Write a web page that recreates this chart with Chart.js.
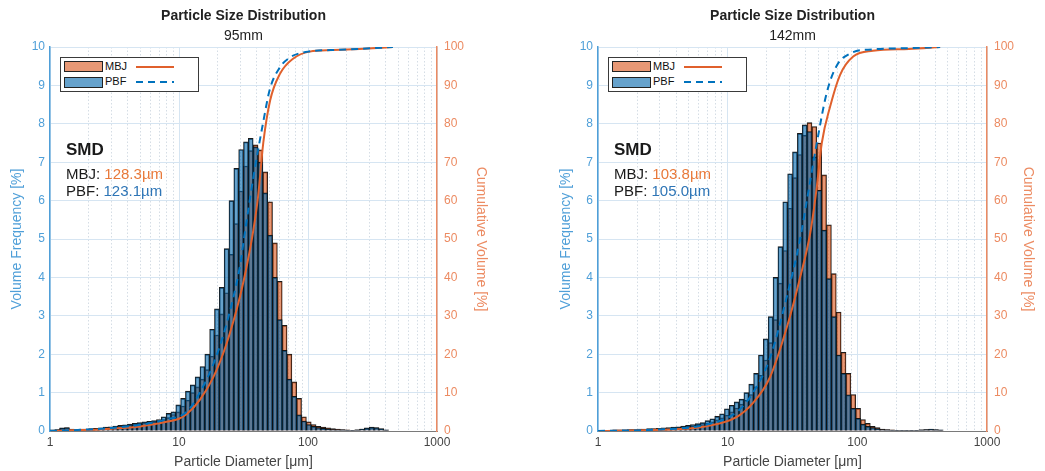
<!DOCTYPE html>
<html lang="en">
<head>
<meta charset="utf-8">
<title>Particle Size Distribution</title>
<script src="https://cdn.jsdelivr.net/npm/chart.js@4.4.1/dist/chart.umd.min.js"></script>
<style>
    html, body { margin: 0; padding: 0; background: #fff; }
    #page { position: relative; width: 1045px; height: 471px; overflow: hidden; font-family: 'Liberation Sans', Arial, Helvetica, sans-serif; }
    #page canvas { position: absolute; top: 0; }
    #chart95 { left: 0; }
    #chart142 { left: 522px; }
    .legend { position: absolute; top: 57px; width: 139px; height: 35px; box-sizing: border-box; border: 1px solid #3a3a3a; background: #fff; }
    .legend .patch { position: absolute; left: 2.5px; width: 39px; height: 11px; box-sizing: border-box; border: 1px solid #222; }
    .legend .label { position: absolute; left: 44px; font-size: 11px; line-height: 11px; color: #111; }
    .legend .swatch { position: absolute; left: 75px; width: 38px; height: 2px; }
    .mbj-patch { background: rgba(217, 83, 25, 0.6); }
    .pbf-patch { background: rgba(0, 100, 170, 0.6); }
    .mbj-line { background: #E0602C; }
    .pbf-line { background: repeating-linear-gradient(to right, #0072BD 0 7px, transparent 7px 12px); }
    .smd { position: absolute; top: 0; color: #1a1a1a; }
    .smd .head { position: absolute; top: 141px; font-weight: bold; font-size: 17px; line-height: 17px; }
    .smd .row { position: absolute; font-size: 15px; line-height: 15px; white-space: nowrap; }
    .mbj-val { color: #E8793A; }
    .pbf-val { color: #2E75B6; }
</style>
</head>
<body>
<div id="page">
    <canvas id="chart95" width="522" height="471"></canvas>
    <canvas id="chart142" width="523" height="471"></canvas>

    <div class="legend" style="left:60px">
        <div class="patch mbj-patch" style="top:3px"></div>
        <div class="label" style="top:3.3px">MBJ</div>
        <div class="swatch mbj-line" style="top:7.7px"></div>
        <div class="patch pbf-patch" style="top:18.7px"></div>
        <div class="label" style="top:18.3px">PBF</div>
        <div class="swatch pbf-line" style="top:22.7px"></div>
    </div>
    <div class="legend" style="left:608px">
        <div class="patch mbj-patch" style="top:3px"></div>
        <div class="label" style="top:3.3px">MBJ</div>
        <div class="swatch mbj-line" style="top:7.7px"></div>
        <div class="patch pbf-patch" style="top:18.7px"></div>
        <div class="label" style="top:18.3px">PBF</div>
        <div class="swatch pbf-line" style="top:22.7px"></div>
    </div>

    <div class="smd" style="left:66px">
        <div class="head">SMD</div>
        <div class="row" style="top:166px">MBJ: <span class="mbj-val">128.3µm</span></div>
        <div class="row" style="top:183px">PBF: <span class="pbf-val">123.1µm</span></div>
    </div>
    <div class="smd" style="left:614px">
        <div class="head">SMD</div>
        <div class="row" style="top:166px">MBJ: <span class="mbj-val">103.8µm</span></div>
        <div class="row" style="top:183px">PBF: <span class="pbf-val">105.0µm</span></div>
    </div>
</div>

<script>
// Histogram bins: 80 log-spaced bins from 1 to 1000 µm, bars sit at the bin centres
const BIN_COUNT = 80;
const binCenters = Array.from({ length: BIN_COUNT }, (_, k) => Math.pow(10, 3 * (k + 0.5) / BIN_COUNT));

const xTickLabels = [1, 10, 100, 1000];
const freqTicks = [0, 1, 2, 3, 4, 5, 6, 7, 8, 9, 10];
const cumTicks = [0, 10, 20, 30, 40, 50, 60, 70, 80, 90, 100];

// ---- 95mm : volume frequency [%] per bin ----
const mbj95Freq = [
    0.02, 0.03, 0.07, 0.08, 0.04, 0.03, 0.04, 0.04, 0.05, 0.06,
    0.07, 0.08, 0.09, 0.11, 0.12, 0.14, 0.15, 0.17, 0.19, 0.21,
    0.22, 0.24, 0.26, 0.30, 0.35, 0.43, 0.50, 0.65, 0.80, 1.00,
    1.15, 1.35, 1.60, 1.95, 2.50, 3.05, 3.60, 4.60, 5.40, 6.25,
    6.90, 7.30, 7.45, 7.32, 6.75, 5.97, 4.90, 3.90, 2.75, 2.00,
    1.28, 0.85, 0.37, 0.24, 0.17, 0.12, 0.10, 0.08, 0.06, 0.05,
    0.04, 0.03, 0.02, 0.03, 0.05, 0.07, 0.09, 0.08, 0.05, 0.02,
    0, 0, 0, 0, 0, 0, 0, 0, 0, 0
];
const pbf95Freq = [
    0.03, 0.04, 0.08, 0.09, 0.05, 0.04, 0.05, 0.05, 0.06, 0.07,
    0.08, 0.10, 0.11, 0.13, 0.15, 0.16, 0.18, 0.20, 0.22, 0.24,
    0.25, 0.27, 0.30, 0.37, 0.46, 0.50, 0.68, 0.85, 1.04, 1.20,
    1.41, 1.68, 2.00, 2.65, 3.18, 3.74, 4.75, 6.00, 6.84, 7.33,
    7.53, 7.62, 7.40, 7.00, 6.20, 5.10, 4.00, 2.90, 2.10, 1.35,
    0.90, 0.42, 0.26, 0.17, 0.12, 0.09, 0.07, 0.05, 0.04, 0.03,
    0.03, 0.02, 0.02, 0.03, 0.05, 0.08, 0.10, 0.09, 0.06, 0.03,
    0, 0, 0, 0, 0, 0, 0, 0, 0, 0
];
// ---- 95mm : cumulative volume [%] ----
const mbj95CumD = [1, 2, 3, 5, 8, 10, 11.5, 14.5, 18.5, 23.4, 29.7, 34, 37.7, 41, 45, 50.8, 60.6, 77, 103, 156, 250, 455];
const mbj95Cum  = [0, 0.3, 0.6, 1.2, 2.4, 3.2, 4.4, 8.1, 14.1, 22.8, 35, 44, 52.3, 61, 75, 86, 93, 97, 98.8, 99.2, 99.5, 100];
const pbf95CumD = [1, 2, 3, 5, 8, 11.5, 14.5, 18.5, 23.4, 29.7, 32.5, 37.7, 45, 50.6, 60, 72.7, 100, 150, 250, 455];
const pbf95Cum  = [0, 0.4, 0.8, 1.6, 3.0, 5, 10, 17.5, 28, 43, 52, 66, 80.5, 89, 94.5, 97.3, 98.8, 99.2, 99.5, 100];

// ---- 142mm : volume frequency [%] per bin ----
const mbj142Freq = [
    0.01, 0.01, 0.02, 0.02, 0.02, 0.02, 0.03, 0.03, 0.03, 0.04,
    0.04, 0.05, 0.05, 0.06, 0.07, 0.08, 0.09, 0.10, 0.12, 0.13,
    0.15, 0.17, 0.20, 0.24, 0.29, 0.34, 0.41, 0.50, 0.60, 0.70,
    0.80, 0.95, 1.15, 1.45, 1.85, 2.30, 2.90, 3.85, 4.70, 5.80,
    6.60, 7.20, 7.70, 8.03, 7.93, 7.50, 6.67, 5.37, 4.10, 3.10,
    2.05, 1.50, 0.95, 0.59, 0.30, 0.20, 0.12, 0.09, 0.05, 0.04,
    0.03, 0.02, 0.02, 0.02, 0.02, 0.02, 0.03, 0.04, 0.04, 0.03,
    0.02, 0, 0, 0, 0, 0, 0, 0, 0, 0
];
const pbf142Freq = [
    0.02, 0.02, 0.02, 0.03, 0.03, 0.03, 0.04, 0.04, 0.05, 0.05,
    0.06, 0.06, 0.07, 0.08, 0.09, 0.10, 0.11, 0.13, 0.15, 0.17,
    0.19, 0.22, 0.27, 0.32, 0.38, 0.45, 0.58, 0.67, 0.76, 0.83,
    1.00, 1.22, 1.50, 1.98, 2.40, 2.98, 4.00, 4.80, 5.97, 6.70,
    7.27, 7.75, 7.97, 7.80, 7.14, 6.27, 5.23, 3.97, 2.98, 1.98,
    1.50, 0.94, 0.59, 0.33, 0.18, 0.12, 0.09, 0.06, 0.04, 0.03,
    0.02, 0.02, 0.02, 0.02, 0.02, 0.02, 0.03, 0.04, 0.05, 0.04,
    0.03, 0, 0, 0, 0, 0, 0, 0, 0, 0
];
// ---- 142mm : cumulative volume [%] ----
const mbj142CumD = [1, 3, 6.5, 11.8, 15.7, 21.2, 28.6, 36.2, 43.3, 48.7, 53.2, 61.7, 73.5, 92.9, 132, 250, 435];
const mbj142Cum  = [0, 0.3, 1.1, 3.7, 7.3, 14, 27, 40, 51.5, 63.6, 75, 84.5, 92.7, 97.5, 99, 99.5, 100];
const pbf142CumD = [1, 3, 6.5, 11.8, 15.7, 21.2, 28.6, 36.2, 40.8, 48.7, 58, 69, 88, 132, 250, 435];
const pbf142Cum  = [0, 0.4, 1.5, 5, 10, 19, 35, 50, 60, 75, 88, 95, 98.3, 99.4, 99.7, 100];

const MBJ_COLOR = '#E0602C';
const PBF_COLOR = '#0072BD';
const MBJ_FILL = 'rgba(217, 83, 25, 0.6)';
const PBF_FILL = 'rgba(0, 100, 170, 0.6)';
const EDGE = 'rgba(15, 15, 15, 0.95)';
const LEFT_AXIS = '#4f9fd8';
const RIGHT_AXIS = '#ec8b62';
const GRID_MAJOR = '#d6e5f2';
const GRID_MINOR = 'rgba(150, 170, 190, 0.4)';

Chart.defaults.font.family = "'Liberation Sans', Arial, Helvetica, sans-serif";

const isDecade = (v) => xTickLabels.some(d => Math.abs(v - d) < 1e-9);
const isMinorTick = (v) => {
    const e = Math.floor(Math.log10(v) + 1e-9);
    const s = v / Math.pow(10, e);
    return Math.abs(s - Math.round(s)) < 1e-6 && !isDecade(v);
};

function buildPanel(canvasId, p) {
    const ctx = document.getElementById(canvasId).getContext('2d');
    const toBars = (values) => values.map((v, i) => ({ x: binCenters[i], y: v > 0 ? v : null }));
    const toCurve = (d, c) => d.map((x, i) => ({ x, y: c[i] }));

    const barStyle = {
        type: 'bar',
        borderColor: EDGE,
        borderWidth: { top: 1, left: 0.8, right: 0.8, bottom: 0 },
        borderSkipped: false,
        grouped: false,
        barPercentage: 1,
        categoryPercentage: 1,
        yAxisID: 'y'
    };
    const lineStyle = {
        type: 'line',
        yAxisID: 'y2',
        borderWidth: 2,
        pointRadius: 0,
        fill: false,
        cubicInterpolationMode: 'monotone'
    };

    return new Chart(ctx, {
        type: 'bar',
        data: {
            datasets: [
                { ...lineStyle, label: 'MBJ cumulative', data: toCurve(p.mbjCumD, p.mbjCum), borderColor: MBJ_COLOR, order: 1 },
                { ...lineStyle, label: 'PBF cumulative', data: toCurve(p.pbfCumD, p.pbfCum), borderColor: PBF_COLOR, borderDash: [7, 5], order: 0 },
                { ...barStyle, label: 'PBF', data: toBars(p.pbf), backgroundColor: PBF_FILL, order: 2 },
                { ...barStyle, label: 'MBJ', data: toBars(p.mbj), backgroundColor: MBJ_FILL, order: 3 }
            ]
        },
        options: {
            responsive: false,
            animation: false,
            devicePixelRatio: 1,
            events: [],
            layout: { padding: 0 },
            plugins: {
                legend: { display: false },
                tooltip: { enabled: false },
                title: {
                    display: true, text: 'Particle Size Distribution', fullSize: false, color: '#222',
                    font: { size: 14, weight: 'bold' }, padding: { top: 7.6, bottom: 3.2 }
                },
                subtitle: {
                    display: true, text: p.subtitle, fullSize: false, color: '#222',
                    font: { size: 14, weight: 'normal' }, padding: { top: 0, bottom: 2.6 }
                }
            },
            scales: {
                x: {
                    type: 'logarithmic',
                    position: 'bottom',
                    min: 1, max: 1000,
                    offset: false,
                    grid: {
                        offset: false, drawTicks: false, lineWidth: 1,
                        color: (c) => (c.tick && isDecade(c.tick.value)) ? GRID_MAJOR : 'rgba(0,0,0,0)'
                    },
                    border: { display: true, color: '#7a7a7a', width: 1 },
                    ticks: {
                        autoSkip: false, maxRotation: 0, padding: 4, color: '#444', font: { size: 12 },
                        callback: (v) => isDecade(v) ? String(v) : ''
                    },
                    title: { display: true, text: 'Particle Diameter [μm]', color: '#444', font: { size: 14 }, padding: { top: 0, bottom: 0 } },
                    afterFit: (s) => { s.height = 40; }
                },
                xMinor: {
                    type: 'logarithmic',
                    position: 'bottom',
                    min: 1, max: 1000,
                    offset: false,
                    grid: {
                        offset: false, drawTicks: false, lineWidth: 1,
                        color: (c) => (c.tick && isMinorTick(c.tick.value)) ? GRID_MINOR : 'rgba(0,0,0,0)'
                    },
                    border: { display: false, dash: [1.5, 2] },
                    ticks: { display: false },
                    afterFit: (s) => { s.height = 0; }
                },
                y: {
                    type: 'linear',
                    position: 'left',
                    min: 0, max: 10,
                    afterBuildTicks: (s) => { s.ticks = freqTicks.map(v => ({ value: v })); },
                    grid: { color: GRID_MAJOR, drawTicks: false },
                    border: { display: true, color: LEFT_AXIS, width: 1.5 },
                    ticks: { color: LEFT_AXIS, padding: 5, font: { size: 12 } },
                    title: { display: true, text: 'Volume Frequency [%]', color: LEFT_AXIS, font: { size: 14 }, padding: { top: p.leftTitlePad, bottom: 0 } },
                    afterFit: (s) => { s.width = p.leftWidth; }
                },
                y2: {
                    type: 'linear',
                    position: 'right',
                    min: 0, max: 100,
                    afterBuildTicks: (s) => { s.ticks = cumTicks.map(v => ({ value: v })); },
                    grid: { drawOnChartArea: false, drawTicks: false },
                    border: { display: true, color: RIGHT_AXIS, width: 1.5 },
                    ticks: { color: RIGHT_AXIS, padding: 7, font: { size: 12 } },
                    title: { display: true, text: 'Cumulative Volume [%]', color: RIGHT_AXIS, font: { size: 14 }, padding: { top: p.rightTitlePad, bottom: 0 } },
                    afterFit: (s) => { s.width = p.rightWidth; }
                }
            }
        }
    });
}

document.addEventListener('DOMContentLoaded', () => {
    buildPanel('chart95', {
        subtitle: '95mm',
        mbj: mbj95Freq, pbf: pbf95Freq,
        mbjCumD: mbj95CumD, mbjCum: mbj95Cum,
        pbfCumD: pbf95CumD, pbfCum: pbf95Cum,
        leftWidth: 50, rightWidth: 85, leftTitlePad: 9, rightTitlePad: 32.6
    });
    buildPanel('chart142', {
        subtitle: '142mm',
        mbj: mbj142Freq, pbf: pbf142Freq,
        mbjCumD: mbj142CumD, mbjCum: mbj142Cum,
        pbfCumD: pbf142CumD, pbfCum: pbf142Cum,
        leftWidth: 76, rightWidth: 58, leftTitlePad: 36, rightTitlePad: 8.6
    });
});
</script>
</body>
</html>
